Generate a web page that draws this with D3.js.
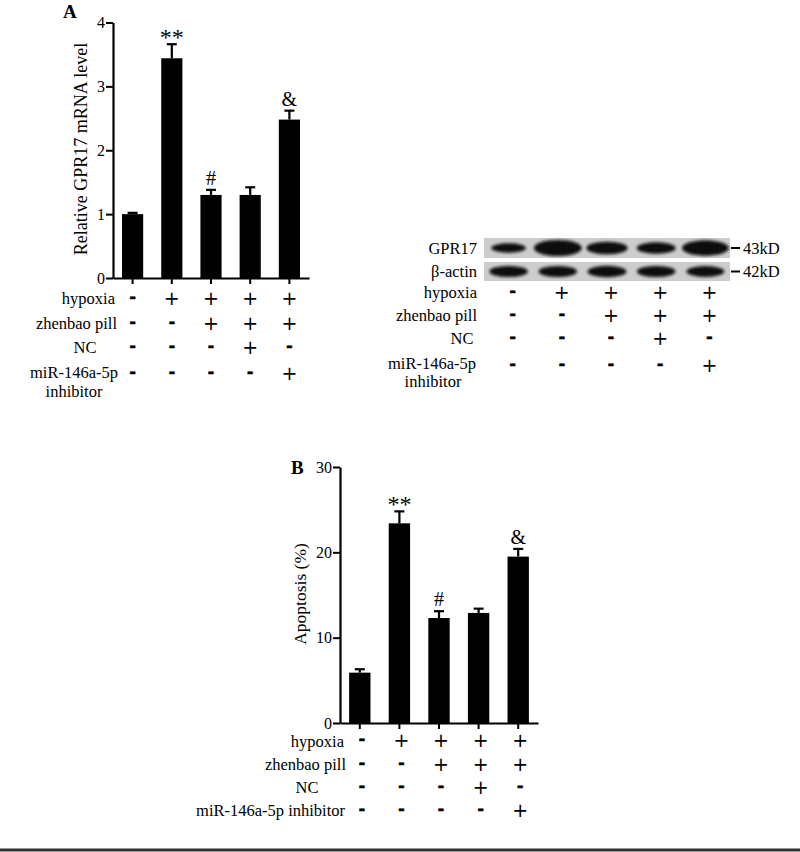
<!DOCTYPE html>
<html>
<head>
<meta charset="utf-8">
<script src="https://cdn.jsdelivr.net/npm/d3@7"></script>
<style>
  body { margin: 0; background: #fff; }
  svg text { font-family: "Liberation Serif", "Times New Roman", serif; fill: #000; }
</style>
</head>
<body>
<svg id="fig" width="800" height="852"></svg>
<script>
// groups (5 conditions)
var groups = ["control", "hypoxia", "hypoxia+pill", "hypoxia+pill+NC", "hypoxia+pill+inhibitor"];

// panel A: relative GPR17 mRNA level
var mrnaMean = [1.0, 3.44, 1.30, 1.30, 2.48];
var mrnaErr = [0.02, 0.22, 0.08, 0.12, 0.14];
var mrnaMarks = ["", "**", "#", "", "&"];
var mrnaTicks = [0, 1, 2, 3, 4];

// panel B: apoptosis (%)
var apopMean = [5.9, 23.4, 12.3, 12.9, 19.5];
var apopErr = [0.4, 1.4, 0.8, 0.5, 0.9];
var apopMarks = ["", "**", "#", "", "&"];
var apopTicks = [0, 10, 20, 30];

// western blot band strength (0..1)
var gpr17Band = [0.45, 1.0, 0.72, 0.62, 0.95];
var actinBand = [0.6, 0.6, 0.62, 0.6, 0.58];

// treatment table
var rowNames = ["hypoxia", "zhenbao pill", "NC", "miR-146a-5p inhibitor"];
var hypoxia = [0, 1, 1, 1, 1];
var zhenbao = [0, 0, 1, 1, 1];
var nc = [0, 0, 0, 1, 0];
var inhibitor = [0, 0, 0, 0, 1];
var treatRows = [hypoxia, zhenbao, nc, inhibitor];

var serif = "'Liberation Serif', 'Times New Roman', serif";
var svg = d3.select("#fig");

// draw one bar chart with the same look for both panels
function barPanel(o) {
    var x = d3.scaleBand().domain(groups).range([o.x0, o.x1])
        .paddingInner(0.46).paddingOuter(0.23);
    var y = d3.scaleLinear().domain(o.domain).range([o.y0, o.y1]);
    var g = svg.append("g");

    // bars
    g.selectAll("rect.bar").data(o.mean).enter().append("rect")
        .attr("x", function(d, i) { return x(groups[i]); })
        .attr("y", function(d) { return y(d); })
        .attr("width", x.bandwidth())
        .attr("height", function(d) { return y(0) - y(d); })
        .attr("fill", "#000");

    // error bars (upper only)
    var cx = function(i) { return x(groups[i]) + x.bandwidth() / 2; };
    o.mean.forEach(function(m, i) {
        var top = y(m + o.err[i]);
        g.append("line").attr("x1", cx(i)).attr("x2", cx(i))
            .attr("y1", y(m)).attr("y2", top)
            .attr("stroke", "#000").attr("stroke-width", 2.2);
        g.append("line").attr("x1", cx(i) - 5).attr("x2", cx(i) + 5)
            .attr("y1", top).attr("y2", top)
            .attr("stroke", "#000").attr("stroke-width", 2.2);
        if (o.marks[i]) {
            g.append("text").attr("x", cx(i)).attr("y", o.marks[i] == "**" ? top + 1 : top - 5)
                .attr("text-anchor", "middle").style("font-family", serif)
                .style("font-size", o.marks[i] == "**" ? "24px" : "20px")
                .text(o.marks[i]);
        }
    });

    // y axis
    var ya = g.append("g").attr("transform", "translate(" + o.x0 + ",0)")
        .call(d3.axisLeft(y).tickValues(o.ticks).tickFormat(d3.format("d"))
            .tickSize(7).tickSizeOuter(0).tickPadding(1));
    ya.select(".domain").attr("stroke-width", 2.2);
    ya.selectAll(".tick line").attr("stroke-width", 2);
    ya.selectAll(".tick text").style("font-size", "16px").style("font-family", serif);

    // x axis
    var xa = g.append("g").attr("transform", "translate(0," + y(0) + ")")
        .call(d3.axisBottom(x).tickSize(6).tickSizeOuter(0).tickFormat(""));
    xa.select(".domain").attr("stroke-width", 2.2);
    xa.selectAll(".tick line").attr("stroke-width", 2);

    // y title
    g.append("text")
        .attr("transform", "translate(" + o.labelX + "," + o.labelY + ") rotate(-90)")
        .attr("text-anchor", "middle").attr("dominant-baseline", "central")
        .style("font-family", serif).style("font-size", o.labelSize).text(o.label);

    // panel letter
    g.append("text").attr("x", o.letterX).attr("y", o.letterY).style("font-family", serif)
        .style("font-size", "19px").style("font-weight", "bold").text(o.letter);
    return x;
}

// table of + / - signs under a chart
function signTable(xs, rowY, labels) {
    var g = svg.append("g");
    treatRows.forEach(function(row, r) {
        row.forEach(function(v, i) {
            var t = g.append("text").attr("x", xs(i)).attr("text-anchor", "middle");
            if (v) t.attr("y", rowY[r] + 6.5).style("font-size", "19px")
                .style("font-family", "DejaVu Sans").text("+");
            else t.attr("y", rowY[r] + 5).style("font-size", "19px")
                .style("font-family", "Liberation Sans").style("font-weight", "bold")
                .style("stroke", "#000").style("stroke-width", 0.6).text("-");
        });
    });
    labels.forEach(function(l) {
        g.append("text").attr("x", l.x).attr("y", l.y)
            .attr("text-anchor", l.anchor).attr("dominant-baseline", "central")
            .style("font-family", serif).style("font-size", "16.5px").text(l.text);
    });
}

// ---- panel A
var xA = barPanel({
    x0: 113, x1: 309, y0: 278, y1: 22.5, domain: [0, 4],
    mean: mrnaMean, err: mrnaErr, marks: mrnaMarks, ticks: mrnaTicks,
    label: "Relative GPR17 mRNA level", labelX: 81, labelY: 149, labelSize: "18px",
    letter: "A", letterX: 63, letterY: 18
});
signTable(function(i) { return xA(groups[i]) + xA.bandwidth() / 2; },
    [298, 323, 347, 373],
    [{ text: rowNames[0], x: 115, y: 298, anchor: "end" },
     { text: rowNames[1], x: 117, y: 323, anchor: "end" },
     { text: rowNames[2], x: 85, y: 347, anchor: "middle" },
     { text: "miR-146a-5p", x: 74, y: 372, anchor: "middle" },
     { text: "inhibitor", x: 74, y: 391, anchor: "middle" }]);

// ---- western blot
var xW = d3.scaleBand().domain(groups).range([484, 730]);
var bw = d3.scaleLinear().domain([0, 1]).range([24, 48]);
var bh = d3.scaleLinear().domain([0, 1]).range([4, 16]);
var defs = svg.append("defs");
defs.append("filter").attr("id", "blur").attr("x", "-30%").attr("y", "-60%")
    .attr("width", "160%").attr("height", "220%")
    .append("feGaussianBlur").attr("stdDeviation", 1.8);

var strips = [
    { name: "GPR17", kd: "43kD", top: 238, h: 20, bands: gpr17Band },
    { name: "\u03b2-actin", kd: "42kD", top: 262, h: 19, bands: actinBand }
];
strips.forEach(function(s) {
    var g = svg.append("g");
    g.append("rect").attr("x", 484).attr("y", s.top).attr("width", 246).attr("height", s.h)
        .attr("fill", "#cdcdcd");
    var mid = s.top + s.h / 2;
    g.selectAll("ellipse").data(s.bands).enter().append("ellipse")
        .attr("cx", function(d, i) { return xW(groups[i]) + xW.bandwidth() / 2; })
        .attr("cy", mid)
        .attr("rx", function(d) { return bw(d) / 2; })
        .attr("ry", function(d) { return bh(d) / 2; })
        .attr("fill", "#0a0a0a").attr("filter", "url(#blur)");
    g.append("text").attr("x", 477).attr("y", mid).attr("text-anchor", "end")
        .attr("dominant-baseline", "central").style("font-family", serif)
        .style("font-size", "16.5px").text(s.name);
    g.append("line").attr("x1", 731).attr("x2", 740).attr("y1", mid).attr("y2", mid)
        .attr("stroke", "#000").attr("stroke-width", 2);
    g.append("text").attr("x", 743).attr("y", mid).attr("dominant-baseline", "central")
        .style("font-family", serif).style("font-size", "16.5px").text(s.kd);
});
signTable(function(i) { return xW(groups[i]) + xW.bandwidth() / 2 + 4; },
    [292, 315, 338, 365],
    [{ text: rowNames[0], x: 477, y: 292, anchor: "end" },
     { text: rowNames[1], x: 477, y: 315, anchor: "end" },
     { text: rowNames[2], x: 462, y: 338, anchor: "middle" },
     { text: "miR-146a-5p", x: 476, y: 363, anchor: "end" },
     { text: "inhibitor", x: 433, y: 381, anchor: "middle" }]);

// ---- panel B
var xB = barPanel({
    x0: 340, x1: 538, y0: 723, y1: 467, domain: [0, 30],
    mean: apopMean, err: apopErr, marks: apopMarks, ticks: apopTicks,
    label: "Apoptosis (%)", labelX: 300, labelY: 594, labelSize: "17.5px",
    letter: "B", letterX: 291, letterY: 474
});
signTable(function(i) { return xB(groups[i]) + xB.bandwidth() / 2 + 2; },
    [740, 764, 787, 810],
    [{ text: rowNames[0], x: 344, y: 741, anchor: "end" },
     { text: rowNames[1], x: 346, y: 764, anchor: "end" },
     { text: rowNames[2], x: 307, y: 787, anchor: "middle" },
     { text: rowNames[3], x: 345, y: 810, anchor: "end" }]);

// bottom rule
svg.append("line").attr("x1", 0).attr("x2", 800).attr("y1", 850).attr("y2", 850)
    .attr("stroke", "#333").attr("stroke-width", 3);
</script>
</body>
</html>
